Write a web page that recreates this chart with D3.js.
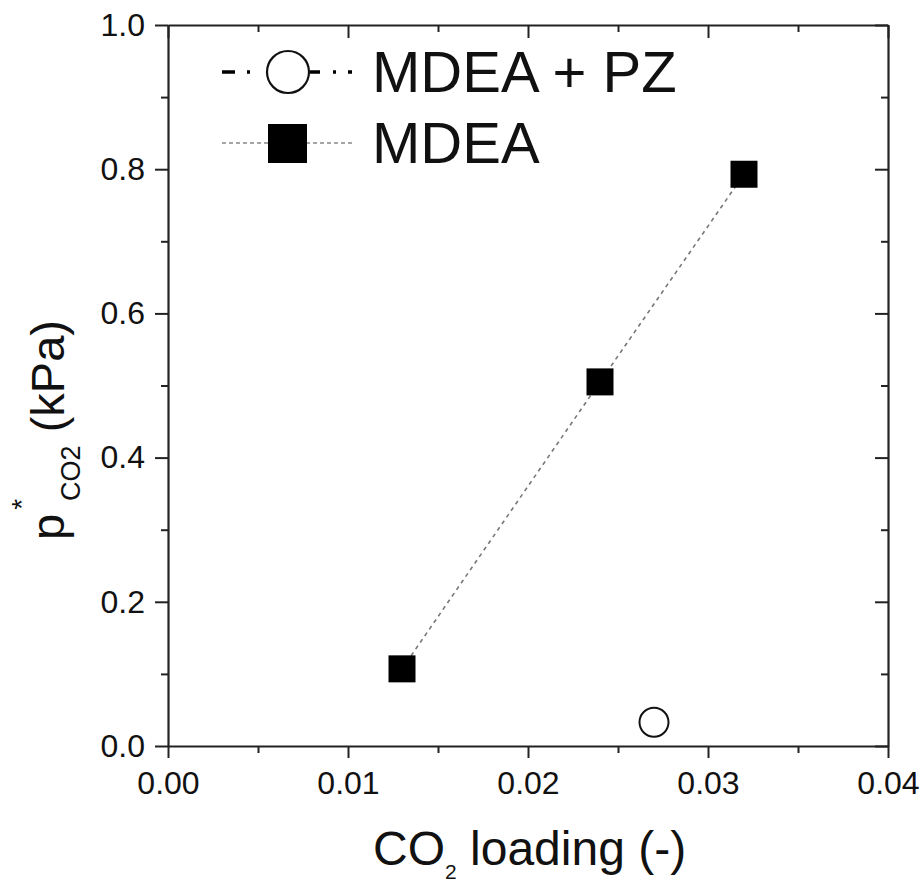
<!DOCTYPE html>
<html>
<head>
<meta charset="utf-8">
<script src="https://cdn.jsdelivr.net/npm/d3@7"></script>
<style>
  html, body { margin: 0; padding: 0; background: #fff; }
  svg { display: block; }
  text { font-family: "Liberation Sans", Arial, sans-serif; fill: #111; }
</style>
</head>
<body>
<svg id="chart" width="924" height="884"></svg>
<script>
// ---- data ----
const seriesNames = ["MDEA + PZ", "MDEA"];
const pzX = [0.027];
const pzY = [0.033];
const mdeaX = [0.013, 0.024, 0.032];
const mdeaY = [0.107, 0.505, 0.793];
const xMajorTicks = [0, 0.01, 0.02, 0.03, 0.04];
const xMinorTicks = [0.005, 0.015, 0.025, 0.035];
const yMajorTicks = [0, 0.2, 0.4, 0.6, 0.8, 1.0];
const yMinorTicks = [0.1, 0.3, 0.5, 0.7, 0.9];

// ---- layout ----
const svg = d3.select("#chart");
const L = 168, R = 888, T = 25, B = 746;
const x = d3.scaleLinear().domain([0, 0.04]).range([L, R]);
const y = d3.scaleLinear().domain([0, 1.0]).range([B, T]);
const axisColor = "#222";

function styleAxis(g) {
  g.selectAll("path.domain").attr("stroke", axisColor).attr("stroke-width", 2.2);
  g.selectAll(".tick line").attr("stroke", axisColor).attr("stroke-width", 2);
  g.selectAll(".tick text").attr("font-family", '"Liberation Sans", Arial, sans-serif').attr("fill", "#111");
}

// bottom axis
const gB = svg.append("g").attr("transform", `translate(0,${B})`)
  .call(d3.axisBottom(x).tickValues(xMajorTicks).tickFormat(d3.format(".2f")).tickSizeInner(12).tickSizeOuter(0).tickPadding(13));
gB.selectAll(".tick text").attr("font-size", 32);
styleAxis(gB);
const gBm = svg.append("g").attr("transform", `translate(0,${B})`)
  .call(d3.axisBottom(x).tickValues(xMinorTicks).tickFormat("").tickSizeInner(7).tickSizeOuter(0));
styleAxis(gBm); gBm.select("path.domain").remove();

// top axis (inward ticks)
const gT = svg.append("g").attr("transform", `translate(0,${T})`)
  .call(d3.axisTop(x).tickValues(xMajorTicks).tickFormat("").tickSizeInner(-13).tickSizeOuter(0));
styleAxis(gT);
const gTm = svg.append("g").attr("transform", `translate(0,${T})`)
  .call(d3.axisTop(x).tickValues(xMinorTicks).tickFormat("").tickSizeInner(-7).tickSizeOuter(0));
styleAxis(gTm); gTm.select("path.domain").remove();

// left axis
const gL = svg.append("g").attr("transform", `translate(${L},0)`)
  .call(d3.axisLeft(y).tickValues(yMajorTicks).tickFormat(d3.format(".1f")).tickSizeInner(13).tickSizeOuter(0).tickPadding(10));
gL.selectAll(".tick text").attr("font-size", 32);
styleAxis(gL);
const gLm = svg.append("g").attr("transform", `translate(${L},0)`)
  .call(d3.axisLeft(y).tickValues(yMinorTicks).tickFormat("").tickSizeInner(7).tickSizeOuter(0));
styleAxis(gLm); gLm.select("path.domain").remove();

// right axis (inward ticks)
const gR = svg.append("g").attr("transform", `translate(${R},0)`)
  .call(d3.axisRight(y).tickValues(yMajorTicks).tickFormat("").tickSizeInner(-13).tickSizeOuter(0));
styleAxis(gR);
const gRm = svg.append("g").attr("transform", `translate(${R},0)`)
  .call(d3.axisRight(y).tickValues(yMinorTicks).tickFormat("").tickSizeInner(-7).tickSizeOuter(0));
styleAxis(gRm); gRm.select("path.domain").remove();

// ---- data marks ----
const mdea = mdeaX.map((v, i) => ({x: v, y: mdeaY[i]}));
const pz = pzX.map((v, i) => ({x: v, y: pzY[i]}));

svg.append("path").datum(mdea)
  .attr("d", d3.line().x(d => x(d.x)).y(d => y(d.y)))
  .attr("fill", "none").attr("stroke", "#777").attr("stroke-width", 1.6)
  .attr("stroke-dasharray", "4,4");

const sq = 27;
svg.selectAll("rect.mdea").data(mdea).enter().append("rect")
  .attr("class", "mdea")
  .attr("x", d => x(d.x) - sq / 2).attr("y", d => y(d.y) - sq / 2)
  .attr("width", sq).attr("height", sq).attr("fill", "#000");

svg.selectAll("circle.pz").data(pz).enter().append("circle")
  .attr("class", "pz")
  .attr("cx", d => x(d.x)).attr("cy", d => y(d.y)).attr("r", 14.5)
  .attr("fill", "#fff").attr("stroke", "#111").attr("stroke-width", 2);

// ---- legend ----
const lg = svg.append("g");
// MDEA + PZ: dash-dot-dot line
lg.append("line").attr("x1", 222).attr("x2", 267).attr("y1", 72).attr("y2", 72)
  .attr("stroke", "#000").attr("stroke-width", 3.5).attr("stroke-dasharray", "13,12,3,40");
lg.append("line").attr("x1", 310).attr("x2", 353).attr("y1", 72).attr("y2", 72)
  .attr("stroke", "#000").attr("stroke-width", 3.5).attr("stroke-dasharray", "10,13,3,12,4,20");
lg.append("circle").attr("cx", 288).attr("cy", 72).attr("r", 21)
  .attr("fill", "#fff").attr("stroke", "#111").attr("stroke-width", 2.2);
lg.append("text").attr("x", 372).attr("y", 92).attr("font-size", 58).text(seriesNames[0]);

// MDEA: dashed gray line + square
lg.append("line").attr("x1", 222).attr("x2", 353).attr("y1", 143).attr("y2", 143)
  .attr("stroke", "#888").attr("stroke-width", 1.6).attr("stroke-dasharray", "4,3");
lg.append("rect").attr("x", 268).attr("y", 124).attr("width", 39).attr("height", 39).attr("fill", "#000");
lg.append("text").attr("x", 372).attr("y", 163).attr("font-size", 58).text(seriesNames[1]);

// ---- axis titles ----
const xt = svg.append("text").attr("x", 373).attr("y", 865).attr("font-size", 48);
xt.append("tspan").text("CO");
xt.append("tspan").attr("font-size", 21).attr("dy", 14).text("2");
xt.append("tspan").attr("dy", -14).text(" loading (-)");

const yt = svg.append("text").attr("transform", "translate(64,540) rotate(-90)")
  .attr("x", 0).attr("y", 0).attr("font-size", 47);
yt.append("tspan").text("p");
yt.append("tspan").attr("font-size", 28).attr("dy", -33).attr("dx", 4).text("*");
yt.append("tspan").attr("font-size", 27).attr("dy", 49).attr("dx", -2).text("CO2");
yt.append("tspan").attr("dy", -16).text(" (kPa)");
</script>
</body>
</html>
